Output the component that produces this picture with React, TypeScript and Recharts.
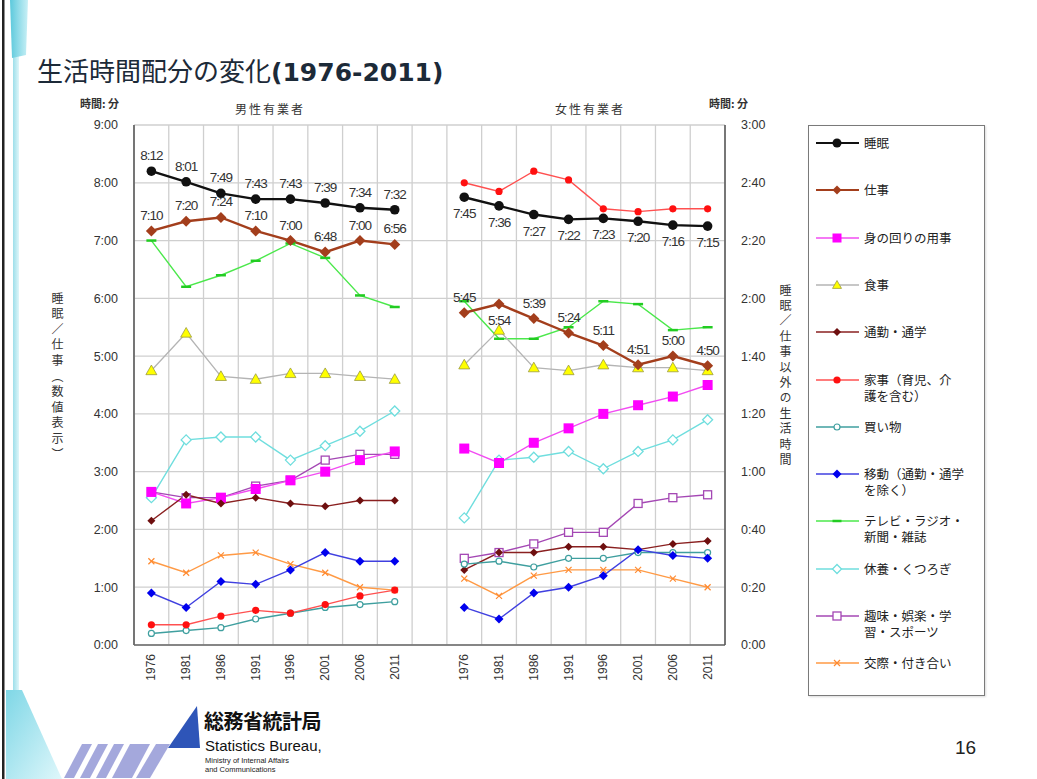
import React from 'react';
import { ComposedChart, Line, XAxis, YAxis, CartesianGrid, LabelList } from 'recharts';

const years = ['1976', '1981', '1986', '1991', '1996', '2001', '2006', '2011'];

// 男性有業者 (minutes per day)
const maleSleep = [492, 481, 469, 463, 463, 459, 454, 452];
const maleWork = [430, 440, 444, 430, 420, 408, 420, 416];
const maleSelfCare = [53, 49, 51, 54, 57, 60, 64, 67];
const maleMeals = [95, 108, 93, 92, 94, 94, 93, 92];
const maleCommute = [43, 52, 49, 51, 49, 48, 50, 50];
const maleHousework = [7, 7, 10, 12, 11, 14, 17, 19];
const maleShopping = [4, 5, 6, 9, 11, 13, 14, 15];
const maleTravel = [18, 13, 22, 21, 26, 32, 29, 29];
const maleMedia = [140, 124, 128, 133, 139, 134, 121, 117];
const maleRest = [51, 71, 72, 72, 64, 69, 74, 81];
const maleHobby = [53, 51, 51, 55, 57, 64, 66, 66];
const maleSocial = [29, 25, 31, 32, 28, 25, 20, 19];

// 女性有業者 (minutes per day)
const femaleSleep = [465, 456, 447, 442, 443, 440, 436, 435];
const femaleWork = [345, 354, 339, 324, 311, 291, 300, 290];
const femaleSelfCare = [68, 63, 70, 75, 80, 83, 86, 90];
const femaleMeals = [97, 109, 96, 95, 97, 96, 96, 95];
const femaleCommute = [26, 32, 32, 34, 34, 33, 35, 36];
const femaleHousework = [160, 157, 164, 161, 151, 150, 151, 151];
const femaleShopping = [28, 29, 27, 30, 30, 32, 32, 32];
const femaleTravel = [13, 9, 18, 20, 24, 33, 31, 30];
const femaleMedia = [119, 106, 106, 110, 119, 118, 109, 110];
const femaleRest = [44, 64, 65, 67, 61, 67, 71, 78];
const femaleHobby = [30, 32, 35, 39, 39, 49, 51, 52];
const femaleSocial = [23, 17, 24, 26, 26, 26, 23, 20];

const leftTicks = [0, 60, 120, 180, 240, 300, 360, 420, 480, 540];
const rightTicks = [0, 20, 40, 60, 80, 100, 120, 140, 160, 180];

type Shape = 'circle' | 'diamond' | 'square' | 'triangle' | 'dot' | 'ring' | 'dash' | 'openDiamond' | 'openSquare' | 'cross';

interface Series {
  key: string;
  label: string;
  male: number[];
  female: number[];
  axis: 'left' | 'right';
  stroke: string;
  fill: string;
  width: number;
  shape: Shape;
  size: number;
}

const SERIES: Series[] = [
  { key: 'media', label: 'テレビ・ラジオ・\n新聞・雑誌', male: maleMedia, female: femaleMedia, axis: 'right', stroke: '#4be84b', fill: '#22cc22', width: 1.4, shape: 'dash', size: 5 },
  { key: 'meals', label: '食事', male: maleMeals, female: femaleMeals, axis: 'right', stroke: '#b4b4b4', fill: '#ffff00', width: 1.3, shape: 'triangle', size: 5.5 },
  { key: 'rest', label: '休養・くつろぎ', male: maleRest, female: femaleRest, axis: 'right', stroke: '#6fdede', fill: '#6fdede', width: 1.4, shape: 'openDiamond', size: 5 },
  { key: 'hobby', label: '趣味・娯楽・学\n習・スポーツ', male: maleHobby, female: femaleHobby, axis: 'right', stroke: '#a447b4', fill: '#a447b4', width: 1.4, shape: 'openSquare', size: 4 },
  { key: 'selfCare', label: '身の回りの用事', male: maleSelfCare, female: femaleSelfCare, axis: 'right', stroke: '#f24cf2', fill: '#ff00ff', width: 1.4, shape: 'square', size: 5 },
  { key: 'commute', label: '通勤・通学', male: maleCommute, female: femaleCommute, axis: 'right', stroke: '#8a2020', fill: '#6e0f0f', width: 1.4, shape: 'diamond', size: 4 },
  { key: 'shopping', label: '買い物', male: maleShopping, female: femaleShopping, axis: 'right', stroke: '#3f9f9f', fill: '#3f9f9f', width: 1.4, shape: 'ring', size: 3 },
  { key: 'social', label: '交際・付き合い', male: maleSocial, female: femaleSocial, axis: 'right', stroke: '#ff9a45', fill: '#ff8a30', width: 1.4, shape: 'cross', size: 3 },
  { key: 'travel', label: '移動（通勤・通学\nを除く）', male: maleTravel, female: femaleTravel, axis: 'right', stroke: '#4040e0', fill: '#0000ee', width: 1.4, shape: 'diamond', size: 4.5 },
  { key: 'housework', label: '家事（育児、介\n護を含む）', male: maleHousework, female: femaleHousework, axis: 'right', stroke: '#ff5050', fill: '#ff1010', width: 1.4, shape: 'dot', size: 3.6 },
  { key: 'work', label: '仕事', male: maleWork, female: femaleWork, axis: 'left', stroke: '#a33e1c', fill: '#a33e1c', width: 2.4, shape: 'diamond', size: 5.5 },
  { key: 'sleep', label: '睡眠', male: maleSleep, female: femaleSleep, axis: 'left', stroke: '#111111', fill: '#111111', width: 2.4, shape: 'circle', size: 4.8 },
];

const LEGEND_ORDER = ['sleep', 'work', 'selfCare', 'meals', 'commute', 'housework', 'shopping', 'travel', 'media', 'rest', 'hobby', 'social'];

// 8 male years, one empty slot, 8 female years
const buildRow = (prefix: string, i: number, group: 'male' | 'female') => {
  const row: Record<string, any> = { cat: prefix + years[i] };
  SERIES.forEach((s) => {
    row[s.key] = s[group][i];
  });
  return row;
};

const rows = [
  ...years.map((_, i) => buildRow('男', i, 'male')),
  { cat: '-' },
  ...years.map((_, i) => buildRow('女', i, 'female')),
];

const pad = (n: number) => String(n).padStart(2, '0');
const hm = (m: number) => `${Math.floor(m / 60)}:${pad(m % 60)}`;

const JP = '"Noto Sans CJK JP", "Noto Sans", sans-serif';
const NUM = '"Liberation Sans", Arial, sans-serif';

const Marker = ({ shape, cx, cy, size, stroke, fill }: { shape: Shape; cx: number; cy: number; size: number; stroke: string; fill: string }) => {
  const s = size;
  switch (shape) {
    case 'circle':
    case 'dot':
      return <circle cx={cx} cy={cy} r={s} fill={fill} />;
    case 'ring':
      return <circle cx={cx} cy={cy} r={s} fill="#fff" stroke={stroke} strokeWidth={1.2} />;
    case 'diamond':
      return <polygon points={`${cx},${cy - s} ${cx + s},${cy} ${cx},${cy + s} ${cx - s},${cy}`} fill={fill} />;
    case 'openDiamond':
      return <polygon points={`${cx},${cy - s} ${cx + s},${cy} ${cx},${cy + s} ${cx - s},${cy}`} fill="#fff" stroke={stroke} strokeWidth={1.3} />;
    case 'square':
      return <rect x={cx - s} y={cy - s} width={s * 2} height={s * 2} fill={fill} />;
    case 'openSquare':
      return <rect x={cx - s} y={cy - s} width={s * 2} height={s * 2} fill="#fff" stroke={stroke} strokeWidth={1.3} />;
    case 'triangle':
      return <polygon points={`${cx},${cy - s} ${cx + s},${cy + s * 0.75} ${cx - s},${cy + s * 0.75}`} fill={fill} stroke="#9a9a40" strokeWidth={0.8} />;
    case 'dash':
      return <line x1={cx - s} y1={cy} x2={cx + s} y2={cy} stroke={fill} strokeWidth={2.5} />;
    case 'cross':
      return (
        <g stroke={fill} strokeWidth={1.2}>
          <line x1={cx - s} y1={cy - s} x2={cx + s} y2={cy + s} />
          <line x1={cx - s} y1={cy + s} x2={cx + s} y2={cy - s} />
        </g>
      );
    default:
      return null;
  }
};

// sleep labels go under the points in the female panel; work labels stay above except 1981 (female)
const labelBelow = (key: string, index: number) => (key === 'sleep' ? index > 8 : index === 10);

const timeLabel = (key: string) => (props: any) => {
  const { x, y, value, index } = props;
  if (value == null || x == null || y == null) return null;
  const dy = labelBelow(key, index) ? 21 : -11;
  return (
    <text x={x} y={y + dy} textAnchor="middle" fontSize={13.5} fontFamily={NUM} letterSpacing={-1} fill="#333">
      {hm(value)}
    </text>
  );
};

const YearTick = (props: any) => {
  const { x, y, payload } = props;
  const v: string = payload.value;
  if (v === '-') return null;
  const ty = y + 1;
  return (
    <text x={x} y={ty} transform={`rotate(-90 ${x} ${ty})`} textAnchor="end" dominantBaseline="central" fontSize={12} fontFamily={NUM} fill="#333">
      {v.slice(1)}
    </text>
  );
};

const LegendBox = () => (
  <div
    style={{
      position: 'absolute',
      left: 808,
      top: 125,
      width: 175,
      height: 569,
      border: '1.5px solid #7a7a7a',
      background: '#fff',
      boxShadow: '1px 1px 2px rgba(0,0,0,0.15)',
    }}
  >
    {LEGEND_ORDER.map((k, i) => {
      const s = SERIES.find((d) => d.key === k)!;
      return (
        <div key={k} style={{ position: 'absolute', left: 6, top: 9 + i * 47.3, display: 'flex', alignItems: 'flex-start' }}>
          <svg width={46} height={16} style={{ flex: 'none' }}>
            <line x1={1} y1={8} x2={44} y2={8} stroke={s.stroke} strokeWidth={s.axis === 'left' ? 2 : 1.4} />
            <Marker shape={s.shape} cx={22} cy={8} size={Math.min(s.size, 4.5)} stroke={s.stroke} fill={s.fill} />
          </svg>
          <div style={{ marginLeft: 3, fontFamily: JP, fontSize: 12.5, lineHeight: '16px', color: '#222', whiteSpace: 'pre' }}>{s.label}</div>
        </div>
      );
    })}
  </div>
);

const SlideFrame = () => (
  <svg width={1037} height={779} style={{ position: 'absolute', left: 0, top: 0 }}>
    <defs>
      <linearGradient id="edge" x1="0" y1="0" x2="1" y2="0">
        <stop offset="0" stopColor="#5cc9dc" />
        <stop offset="1" stopColor="#c9f0f6" />
      </linearGradient>
      <linearGradient id="foot" x1="0" y1="0" x2="1" y2="1">
        <stop offset="0" stopColor="#7fd7e6" />
        <stop offset="1" stopColor="#dff7fb" />
      </linearGradient>
    </defs>
    <rect x={2} y={0} width={2.5} height={779} fill="#222" />
    <rect x={13} y={0} width={6} height={779} fill="url(#edge)" opacity={0.6} />
    <polygon points="10,0 28,0 26,55 12,58" fill="url(#edge)" />
    <polygon points="6,690 22,690 62,779 6,779" fill="url(#foot)" />
    {/* logo mark */}
    <g fill="#a4a8dc">
      <polygon points="64,778 82,744 92,744 74,778" />
      <polygon points="80,778 98,744 108,744 90,778" />
      <polygon points="96,778 114,744 124,744 106,778" />
      <polygon points="112,778 130,744 150,744 132,778" />
      <polygon points="136,778 156,744 170,744 150,778" />
    </g>
    <polygon points="197,706 200,748 168,748" fill="#2e55b8" />
  </svg>
);

export default function App() {
  return (
    <div style={{ position: 'absolute', left: 0, top: 0, width: 1037, height: 779, background: '#fff', overflow: 'hidden' }}>
      <SlideFrame />

      <div style={{ position: 'absolute', left: 37, top: 51, whiteSpace: 'nowrap', color: '#1c2a38' }}>
        <span style={{ fontFamily: JP, fontSize: 26 }}>生活時間配分の変化</span>
        <span style={{ fontFamily: '"DejaVu Sans", Verdana, sans-serif', fontSize: 25, fontWeight: 'bold' }}>(1976-2011)</span>
      </div>

      <div style={{ position: 'absolute', left: 80, top: 95, fontFamily: JP, fontSize: 11, fontWeight: 'bold', color: '#333' }}>時間: 分</div>
      <div style={{ position: 'absolute', left: 709, top: 95, fontFamily: JP, fontSize: 11, fontWeight: 'bold', color: '#333' }}>時間: 分</div>
      <div style={{ position: 'absolute', left: 235, top: 100, fontFamily: JP, fontSize: 12, letterSpacing: 2, color: '#333' }}>男性有業者</div>
      <div style={{ position: 'absolute', left: 555, top: 100, fontFamily: JP, fontSize: 12, letterSpacing: 2, color: '#333' }}>女性有業者</div>

      <div style={{ position: 'absolute', left: 49, top: 292, writingMode: 'vertical-rl', fontFamily: JP, fontSize: 12, letterSpacing: 3.6, color: '#333' }}>
        睡眠／仕事（数値表示）
      </div>
      <div style={{ position: 'absolute', left: 777, top: 284, writingMode: 'vertical-rl', fontFamily: JP, fontSize: 12, letterSpacing: 3.4, color: '#333' }}>
        睡眠／仕事以外の生活時間
      </div>

      <ComposedChart
        width={1037}
        height={779}
        data={rows}
        margin={{ top: 125, right: 252, bottom: 84, left: 74 }}
        style={{ position: 'absolute', left: 0, top: 0 }}
      >
        <CartesianGrid
          yAxisId="left"
          stroke="#cfcfcf"
          strokeWidth={1.3}
          verticalCoordinatesGenerator={({ offset }: any) =>
            Array.from({ length: rows.length + 1 }, (_, i) => offset.left + (offset.width * i) / rows.length)
          }
        />
        <XAxis
          dataKey="cat"
          scale="band"
          interval={0}
          tick={<YearTick />}
          tickLine={false}
          axisLine={{ stroke: '#6a6a6a', strokeWidth: 1.5 }}
          height={50}
        />
        <YAxis
          yAxisId="left"
          domain={[0, 540]}
          ticks={leftTicks}
          tickFormatter={(m: number) => `${m / 60}:00`}
          tick={{ fontSize: 12.5, fontFamily: NUM, fill: '#333' }}
          tickLine={false}
          tickMargin={10}
          axisLine={{ stroke: '#6a6a6a', strokeWidth: 1.8 }}
          width={60}
        />
        <YAxis
          yAxisId="right"
          orientation="right"
          domain={[0, 180]}
          ticks={rightTicks}
          tickFormatter={hm}
          tick={{ fontSize: 12.5, fontFamily: NUM, fill: '#333' }}
          tickLine={false}
          tickMargin={10}
          axisLine={{ stroke: '#555', strokeWidth: 1.5 }}
          width={60}
        />
        {SERIES.map((s) => (
          <Line
            key={s.key}
            yAxisId={s.axis}
            dataKey={s.key}
            name={s.label}
            type="linear"
            stroke={s.stroke}
            strokeWidth={s.width}
            connectNulls={false}
            isAnimationActive={false}
            activeDot={false}
            dot={(p: any) =>
              p.value == null || p.cy == null ? (
                <g key={`${s.key}-${p.index}`} />
              ) : (
                <Marker key={`${s.key}-${p.index}`} shape={s.shape} cx={p.cx} cy={p.cy} size={s.size} stroke={s.stroke} fill={s.fill} />
              )
            }
          >
            {s.axis === 'left' && <LabelList dataKey={s.key} content={timeLabel(s.key)} />}
          </Line>
        ))}
      </ComposedChart>

      <LegendBox />

      <div style={{ position: 'absolute', left: 204, top: 706, fontFamily: JP, fontSize: 20, fontWeight: 'bold', color: '#111', letterSpacing: -0.5 }}>総務省統計局</div>
      <div style={{ position: 'absolute', left: 205, top: 737, fontFamily: NUM, fontSize: 15, color: '#111' }}>Statistics Bureau,</div>
      <div style={{ position: 'absolute', left: 205, top: 756, fontFamily: NUM, fontSize: 7.5, lineHeight: '9px', color: '#222' }}>
        Ministry of Internal Affairs
        <br />
        and Communications
      </div>
      <div style={{ position: 'absolute', left: 955, top: 737, fontFamily: NUM, fontSize: 19, color: '#222' }}>16</div>
    </div>
  );
}
